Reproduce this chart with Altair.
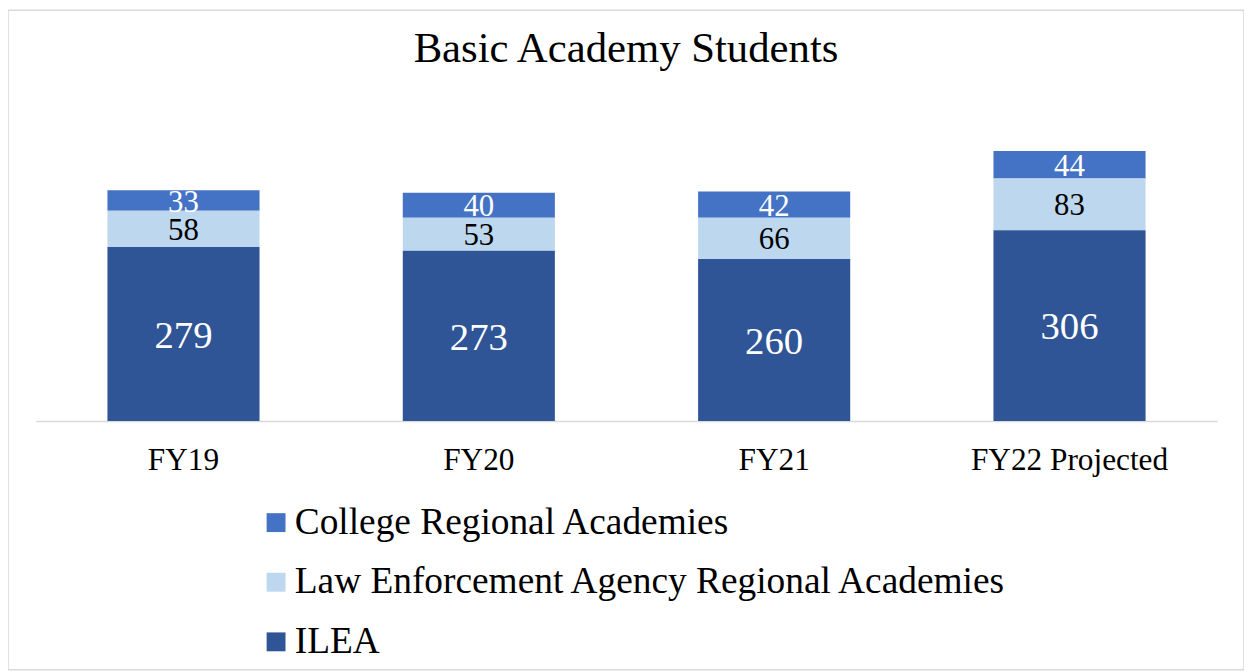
import altair as alt
import pandas as pd

years = ["FY19", "FY20", "FY21", "FY22 Projected"]
series = ["College Regional Academies",
          "Law Enforcement Agency Regional Academies",
          "ILEA"]
college = [33, 40, 42, 44]
law_enf = [58, 53, 66, 83]
ilea = [279, 273, 260, 306]
stack_order = {"ILEA": 0,
               "Law Enforcement Agency Regional Academies": 1,
               "College Regional Academies": 2}
colors = ["#4472C4", "#BDD7EE", "#2F5597"]

rows = []
for i, y in enumerate(years):
    for s, vals in zip(series, [college, law_enf, ilea]):
        rows.append({"year": y, "series": s, "value": vals[i], "ord": stack_order[s]})
df = pd.DataFrame(rows)

FONT = "Liberation Serif"
W, H = 1244, 664
PX_PER_UNIT = 0.6275
BASE = 413.5

xscale = alt.Scale(domain=years, range=[28, 1217], paddingInner=0.485, paddingOuter=0.2425)
yscale = alt.Scale(domain=[0, 500], range=[BASE, BASE - 500 * PX_PER_UNIT])

base = alt.Chart(df)

bars = base.mark_bar().encode(
    x=alt.X("year:N", scale=xscale, sort=years,
            axis=alt.Axis(title=None, orient="bottom", offset=-(H - BASE), ticks=False,
                          domainColor="#D9D9D9", domainWidth=1.5, labelFont=FONT,
                          labelFontSize=31.5, labelColor="black", labelPadding=24,
                          labelAngle=0, grid=False, labelLimit=0)),
    y=alt.Y("value:Q", scale=yscale, stack="zero", axis=None),
    color=alt.Color("series:N",
                    scale=alt.Scale(domain=series, range=colors),
                    legend=alt.Legend(title=None, orient="none", legendX=251, legendY=497,
                                      direction="vertical", symbolType="square",
                                      symbolSize=361, symbolStrokeWidth=0, symbolOpacity=1,
                                      labelFont=FONT, labelFontSize=37.6, labelColor="black",
                                      labelOffset=0, rowPadding=21, padding=0,
                                      labelLimit=1000)),
    order=alt.Order("ord:Q", sort="ascending"),
)

labels = base.transform_stack(
    stack="value", groupby=["year"], sort=[alt.SortField("ord", order="ascending")],
    as_=["y0", "y1"]
).transform_calculate(
    mid="(datum.y0 + datum.y1) / 2"
).mark_text(font=FONT, baseline="middle", align="center", dy=2).encode(
    x=alt.X("year:N", scale=xscale, sort=years),
    y=alt.Y("mid:Q", scale=yscale),
    text=alt.Text("value:Q"),
    color=alt.condition("datum.series == 'Law Enforcement Agency Regional Academies'",
                        alt.value("black"), alt.value("white")),
    size=alt.condition("datum.series == 'ILEA'", alt.value(39), alt.value(31)),
)

chart = alt.layer(bars, labels).properties(
    width=W, height=H,
    padding=0,
    background="white",
    title=alt.TitleParams("Basic Academy Students", font=FONT, fontSize=43,
                          fontWeight="normal", color="black", anchor="middle",
                          baseline="alphabetic", offset=-95),
).configure_view(stroke="#D9D9D9", strokeWidth=1.5)

chart.save("out.html", embed_options={"renderer": "svg", "actions": False})
